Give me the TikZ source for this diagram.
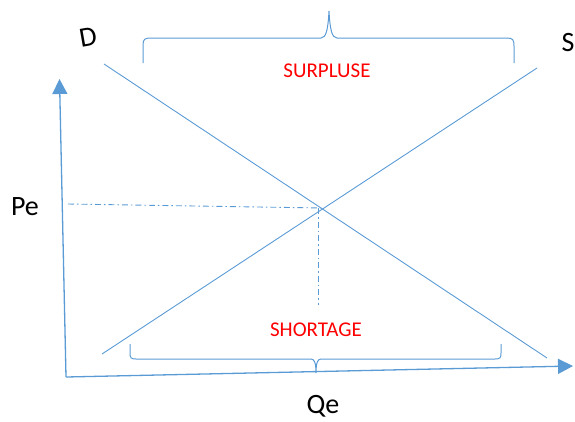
\documentclass[tikz,border=0pt]{standalone}
\usepackage{fontspec}
\setmainfont{Carlito}
\usepackage{xcolor}
\usetikzlibrary{
  arrows.meta,
  positioning,
  calc
}
\definecolor{linhaazul}{HTML}{5B9BD5}

\begin{document}
\begin{tikzpicture}[
    x=1pt, y=-1pt,
    rotulo/.style={
    text=black,
    font=\fontsize{28}{30}\selectfont,
    inner sep=0pt
    },
    area/.style={
    text=red,
    font=\fontsize{21}{24}\selectfont,
    inner sep=0pt
    },
    curva/.style={linhaazul, line width=0.9pt},
    eixo/.style={linhaazul, line width=1.3pt, -{Triangle[length=15pt,width=15pt]}},
    guia/.style={linhaazul, line width=0.9pt,
    dash pattern=on 6pt off 3pt on 1.5pt off 3pt},
    chave/.style={linhaazul, line width=1pt}
    ]
    
    \useasboundingbox (0,0) rectangle (575,421);
    
    \coordinate (O) at (66,377);
    \coordinate (xfim) at (573,366);
    \coordinate (yfim) at (59.5,79);
    \coordinate (D1) at (104,64);
    \coordinate (D2) at (547,358);
    \coordinate (S1) at (102,354);
    \coordinate (S2) at (537,68);
    \coordinate (E) at (322,208);
    \coordinate (pe) at (68,204);
    \coordinate (qe) at (318,305);
    
    \node[rotulo, rotate=10] (dem) at (88,37) {D};
    \node[rotulo] (ofe) at (568,43) {S};
    \node[rotulo] (preco) at (25,207) {Pe};
    \node[rotulo] (quant) at (323,406) {Qe};
    
    \node[area] (surp) at (327,71) {SURPLUSE};
    \node[area] (short) at (316,330) {SHORTAGE};
    
    \draw[eixo] (O)--(xfim);
    \draw[eixo] (O)--(yfim);
    
    \draw[curva] (D1)--(D2);
    \draw[curva] (S1)--(S2);
    
    \draw[guia] (pe)--(E);
    \draw[guia] ($(E)+(-4,0)$)--(qe);
    
    \draw[chave] (143,63)--(143,45)
    .. controls (143,39) and (145,38) .. (151,38)--(321,38)
    .. controls (326,38) and (328,30) .. (329,11)
    .. controls (330,30) and (332,38) .. (337,38)--(507,38)
    .. controls (513,38) and (514,40) .. (514,46)--(514,63);
    
    \draw[chave] (130,344)--(130,353)
    .. controls (130,358) and (131,359) .. (136,359)--(311,359)
    .. controls (314,359) and (316,362) .. (316,373)
    .. controls (316,362) and (318,359) .. (321,359)--(495,359)
    .. controls (500,359) and (501,358) .. (501,353)--(501,344);
    
    \end{tikzpicture}
\end{document}
